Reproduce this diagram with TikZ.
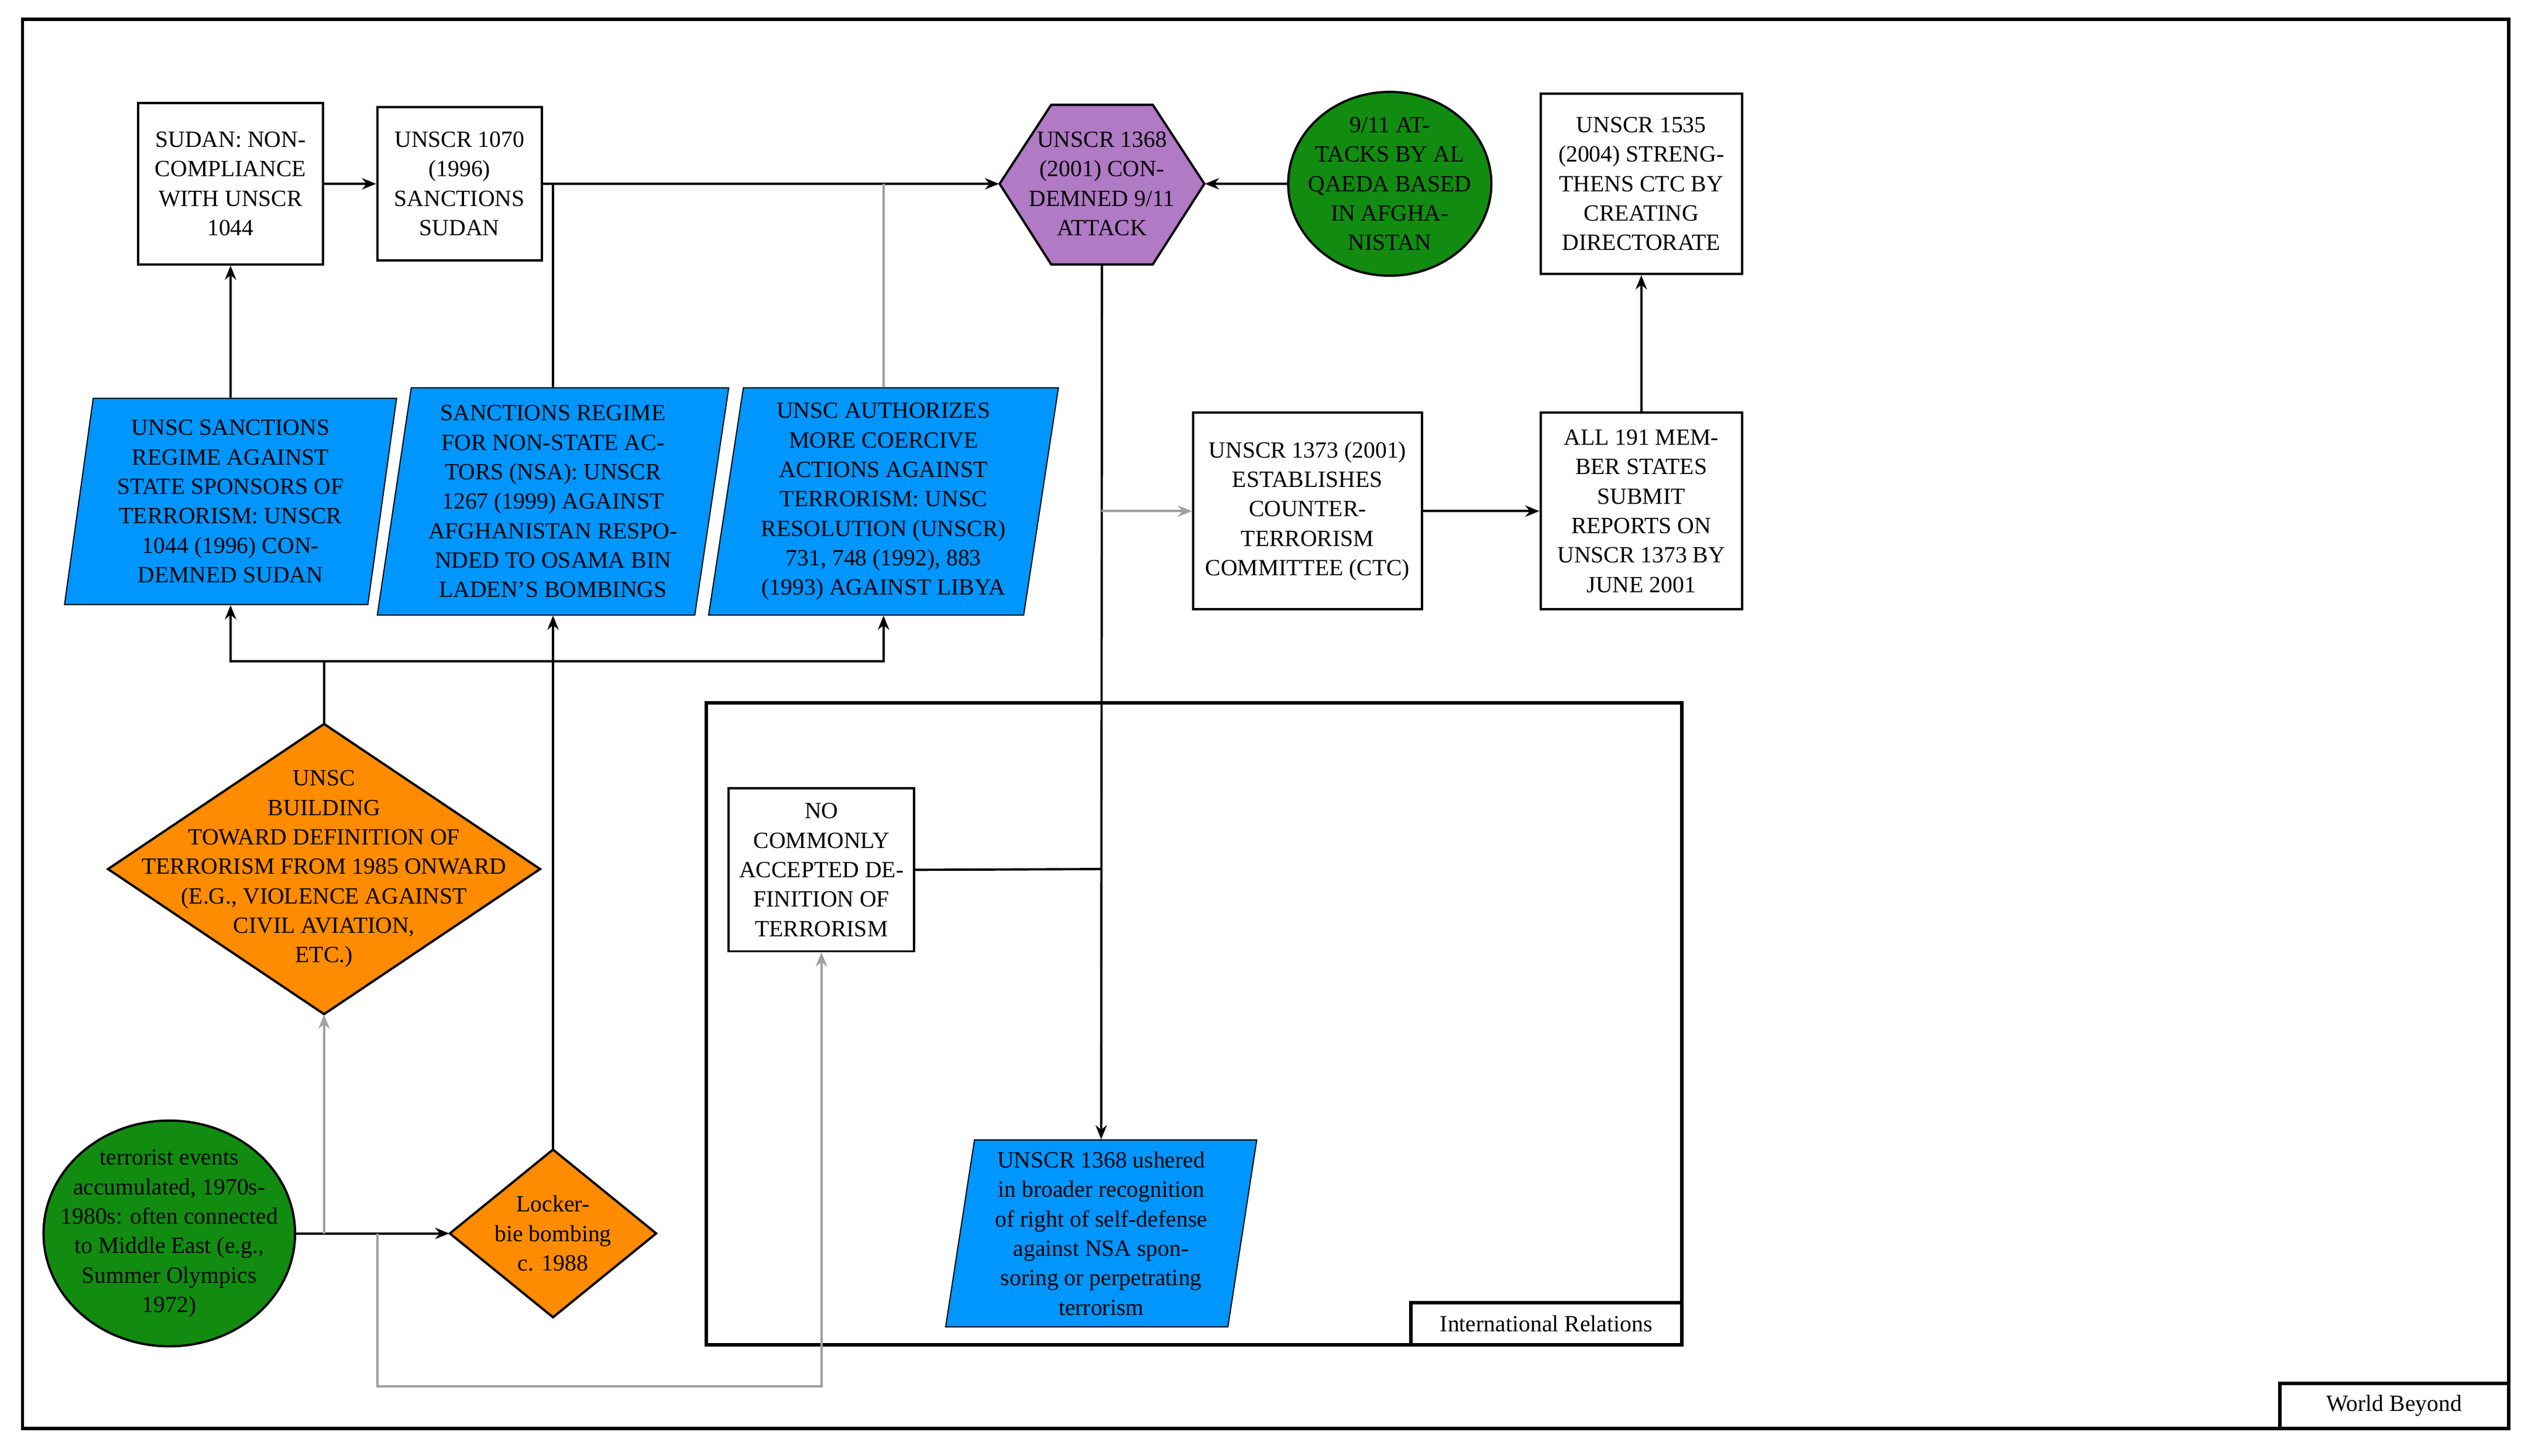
\documentclass[tikz,border=0pt]{standalone}
\usepackage{fontspec}
\setmainfont{Liberation Serif}
\usetikzlibrary{shapes.geometric,arrows.meta}
\definecolor{bl}{RGB}{0,150,255}
\definecolor{orn}{RGB}{255,140,0}
\definecolor{grn}{RGB}{17,140,17}
\definecolor{pur}{RGB}{176,122,196}
\definecolor{gry}{RGB}{160,160,160}
\begin{document}
\begin{tikzpicture}[x=0.02cm,y=-0.02cm,
 every node/.style={font=\fontsize{8.2}{10.4}\selectfont,align=center,inner sep=0pt},
 box/.style={draw,thick,fill=white},
 para/.style={trapezium,trapezium left angle=80,trapezium right angle=100,trapezium stretches body,draw,fill=bl},
 ar/.style={-{Stealth[length=5pt,width=4pt]},thick},
 ln/.style={thick},
 g/.style={draw=gry,thick}]
\useasboundingbox (0,0) rectangle (1568,903);
\draw[line width=1.2pt] (14,12) rectangle (1556,886);
\node[draw,line width=1.2pt,minimum width=2.84cm,minimum height=0.56cm] (wb) at (1485,872) {World Beyond};
\draw[line width=1.2pt] (438,436) rectangle (1043,834);
\node[draw,line width=1.2pt,minimum width=3.36cm,minimum height=0.52cm] (ir) at (959,821) {International Relations};

\node[box,minimum width=2.3cm,minimum height=2cm] (sudan) at (143,114) {SUDAN: NON-\\COMPLIANCE\\WITH UNSCR\\1044};
\node[box,minimum width=2.04cm,minimum height=1.9cm] (u1070) at (285,114) {UNSCR 1070\\(1996)\\SANCTIONS\\SUDAN};
\filldraw[fill=pur,thick] (620,114)--(652,65)--(715,65)--(747,114)--(715,164)--(652,164)--cycle;
\node[minimum width=2.54cm,minimum height=2cm] (u1368) at (683.5,114) {UNSCR 1368\\(2001) CON-\\DEMNED 9/11\\ATTACK};
\filldraw[fill=grn,thick] (862,114) ellipse [x radius=63, y radius=57];
\node[minimum width=2.52cm,minimum height=2.28cm] (e911) at (862,114) {9/11 AT-\\TACKS BY AL\\QAEDA BASED\\IN AFGHA-\\NISTAN};
\node[box,minimum width=2.5cm,minimum height=2.24cm] (u1535) at (1018,114) {UNSCR 1535\\(2004) STRENG-\\THENS CTC BY\\CREATING\\DIRECTORATE};
\node[para,minimum width=4.12cm,minimum height=2.56cm] (p1) at (143,311) {UNSC SANCTIONS\\REGIME AGAINST\\STATE SPONSORS OF\\TERRORISM: UNSCR\\1044 (1996) CON-\\DEMNED SUDAN};
\node[para,minimum width=4.36cm,minimum height=2.82cm] (p2) at (343,311) {SANCTIONS REGIME\\FOR NON-STATE AC-\\TORS (NSA): UNSCR\\1267 (1999) AGAINST\\AFGHANISTAN RESPO-\\NDED TO OSAMA BIN\\LADEN'S BOMBINGS};
\node[para,minimum width=4.34cm,minimum height=2.82cm] (p3) at (548,311) {UNSC AUTHORIZES\\MORE COERCIVE\\ACTIONS AGAINST\\TERRORISM: UNSC\\RESOLUTION (UNSCR)\\731, 748 (1992), 883\\(1993) AGAINST LIBYA};
\node[box,minimum width=2.84cm,minimum height=2.44cm] (u1373) at (811,317) {UNSCR 1373 (2001)\\ESTABLISHES\\COUNTER-\\TERRORISM\\COMMITTEE (CTC)};
\node[box,minimum width=2.5cm,minimum height=2.44cm] (a191) at (1018,317) {ALL 191 MEM-\\BER STATES\\SUBMIT\\REPORTS ON\\UNSCR 1373 BY\\JUNE 2001};
\filldraw[fill=orn,thick] (67,539)--(201,449)--(335,539)--(201,629)--cycle;
\node[minimum width=5.36cm,minimum height=3.6cm] (dia) at (201,539) {UNSC\\BUILDING\\TOWARD DEFINITION OF\\TERRORISM FROM 1985 ONWARD\\(E.G., VIOLENCE AGAINST\\CIVIL AVIATION,\\ETC.)};
\node[box,minimum width=2.3cm,minimum height=2.02cm] (nodef) at (509.5,539.5) {NO\\COMMONLY\\ACCEPTED DE-\\FINITION OF\\TERRORISM};
\filldraw[fill=grn,thick] (105,765) ellipse [x radius=78, y radius=70];
\node[minimum width=3.12cm,minimum height=2.8cm] (te) at (105,765) {terrorist events\\accumulated, 1970s-\\1980s: often connected\\to Middle East (e.g.,\\Summer Olympics\\1972)};
\filldraw[fill=orn,thick] (279,765)--(343,713)--(407,765)--(343,817)--cycle;
\node[minimum width=2.56cm,minimum height=2.08cm] (lk) at (343,765) {Locker-\\bie bombing\\c. 1988};
\node[para,minimum width=3.86cm,minimum height=2.32cm] (p4) at (683,765) {UNSCR 1368 ushered\\in broader recognition\\of right of self-defense\\against NSA spon-\\soring or perpetrating\\terrorism};

\coordinate (j1) at (343,114);
\coordinate (j2) at (548,114);
\coordinate (j3) at (683,317);
\coordinate (j4) at (683,539);
\coordinate (j5) at (201,410);
\coordinate (j6) at (201,765);
\coordinate (j7) at (234,765);

\draw[ar] (sudan) -- (u1070);
\draw[ar] (u1070.east) -- (u1368.west);
\draw[ar] (e911) -- (u1368);
\draw[ar] (p1.north) -- (sudan.south);
\draw[ln] (p2.north) -- (j1);
\draw[g] (p3.north) -- (j2);
\draw[ar] (a191) -- (u1535);
\draw[ar] (u1368.south) -- (p4.north);
\draw[ar,draw=gry] (j3) -- (u1373.west);
\draw[ar] (u1373) -- (a191);
\draw[ln] (nodef.east) -- (j4);
\draw[ln] (dia.north) -- (j5);
\draw[ar] (j5) -| (p1.south);
\draw[ar] (j5) -| (p3.south);
\draw[ar] (te.east) -- (lk.west);
\draw[ar,draw=gry] (j6) -- (dia.south);
\draw[ar,draw=gry] (j7) -- (234,860) -| (nodef.south);
\draw[ar] (lk.north) -- (p2.south);
\end{tikzpicture}
\end{document}
